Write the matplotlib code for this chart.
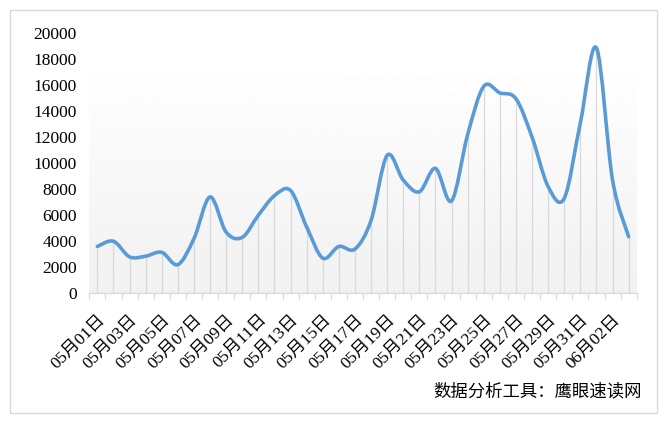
import numpy as np
import matplotlib
matplotlib.use("Agg")
import matplotlib.pyplot as plt
from matplotlib.path import Path
from matplotlib.patches import PathPatch, Rectangle

plt.rcParams["font.family"] = ["Liberation Serif", "Noto Sans CJK SC", "DejaVu Sans"]

# daily values 05/01 .. 06/03
dates = [f"05月{d:02d}日" for d in range(1, 32)] + ["06月01日", "06月02日", "06月03日"]
values = [3600, 4000, 2800, 2850, 3150, 2200, 4200, 7400, 4700, 4300,
          6000, 7500, 7900, 5100, 2700, 3600, 3400, 5600, 10600, 8700,
          7800, 9600, 7100, 12200, 15900, 15400, 14950, 12000, 8200, 7300,
          13100, 18850, 8700, 4350]

LINE = "#5B9BD5"
GRID = "#d9d9d9"

fig = plt.figure(figsize=(6.69, 4.25), dpi=100)
fig.patches.append(Rectangle((10 / 669, 12 / 425), 647 / 669, 403 / 425,
                             transform=fig.transFigure, fill=False,
                             edgecolor=GRID, linewidth=1))

ax = fig.add_axes([89.3 / 669, (425 - 293.3) / 425, 547.4 / 669, 260.3 / 425])
n = len(values)
x = np.arange(n)
y = np.array(values, dtype=float)

# soft vertical gradient behind the plot
grad = np.linspace(0.945, 1.0, 256).reshape(-1, 1)
ax.imshow(grad, extent=[-0.5, n - 0.5, 0, 18000], origin="lower",
          cmap="gray", vmin=0, vmax=1, aspect="auto", zorder=0)

# drop lines
ax.vlines(x, 0, y, colors=GRID, linewidth=0.9, zorder=1)

# smooth bezier line like office charts
verts = [(x[0], y[0])]
codes = [Path.MOVETO]
for i in range(n - 1):
    p0 = np.array([x[max(i - 1, 0)], y[max(i - 1, 0)]])
    p1 = np.array([x[i], y[i]])
    p2 = np.array([x[i + 1], y[i + 1]])
    p3 = np.array([x[min(i + 2, n - 1)], y[min(i + 2, n - 1)]])
    c1 = p1 + (p2 - p0) / 6
    c2 = p2 - (p3 - p1) / 6
    verts += [tuple(c1), tuple(c2), tuple(p2)]
    codes += [Path.CURVE4] * 3
ax.add_patch(PathPatch(Path(verts, codes), facecolor="none", edgecolor=LINE,
                       linewidth=2.6, capstyle="round", joinstyle="round", zorder=3))

ax.set_xlim(-0.5, n - 0.5)
ax.set_ylim(0, 20000)
ax.set_yticks(range(0, 20001, 2000))
ax.tick_params(axis="y", length=0, pad=9, labelsize=12.5)

ax.set_xticks(np.arange(-0.5, n, 1.0))
ax.set_xticklabels([])
ax.tick_params(axis="x", which="major", length=4.5, color=GRID, width=0.8)
ax.set_xticks(x[::2], minor=True)
ax.set_xticklabels(dates[::2], minor=True, rotation=45, ha="right",
                   va="top", rotation_mode="anchor", fontsize=12.5)
ax.tick_params(axis="x", which="minor", length=0, pad=13)

for s in ["top", "right", "left"]:
    ax.spines[s].set_visible(False)
ax.spines["bottom"].set_color(GRID)
ax.spines["bottom"].set_linewidth(0.9)
ax.set_facecolor("white")

fig.text(642 / 669, 1 - 392 / 425, "数据分析工具：鹰眼速读网",
         ha="right", va="center", fontsize=12.5)

fig.savefig("out.png", dpi=100)
